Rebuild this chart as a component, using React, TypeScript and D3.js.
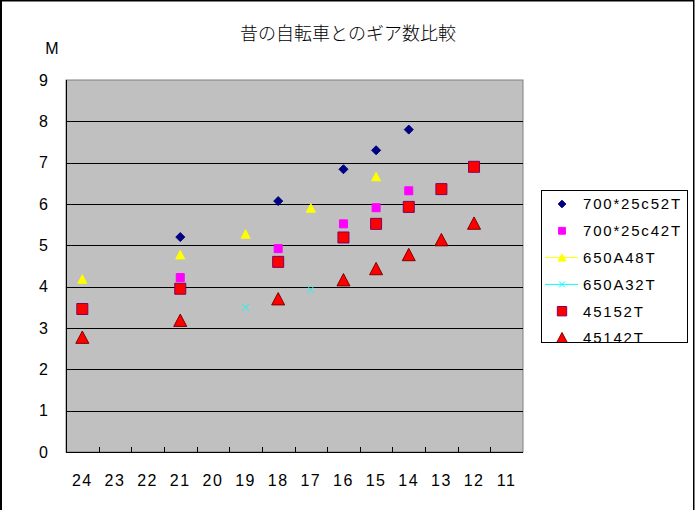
import React from "react";
import * as d3 from "d3";

const categories = ["24","23","22","21","20","19","18","17","16","15","14","13","12","11"];
const yTicks = [0,1,2,3,4,5,6,7,8,9];
const title = "昔の自転車とのギア数比較";
const yUnit = "M";

const s700_52 = [null,null,null,5.2,null,null,6.07,null,6.84,7.3,7.8,null,null,null];
const s700_42 = [null,null,null,4.22,null,null,4.92,null,5.52,5.91,6.32,null,null,null];
const s650_48 = [4.18,null,null,4.77,null,5.27,null,5.9,null,6.66,null,null,null,null];
const s650_32 = [null,null,null,null,null,3.5,null,3.93,null,null,null,null,null,null];
const s451_52 = [3.46,null,null,3.95,null,null,4.6,null,5.19,5.52,5.93,6.36,6.9,null];
const s451_42 = [2.77,null,null,3.18,null,null,3.7,null,4.16,4.43,4.77,5.13,5.53,null];

type Series = { name: string; values: (number | null)[]; marker: string; fill: string; stroke: string; line?: string; r: number };

const series: Series[] = [
  { name: "700*25c52T", values: s700_52, marker: "diamond", fill: "#000080", stroke: "#000080", r: 4.5 },
  { name: "700*25c42T", values: s700_42, marker: "square", fill: "#FF00FF", stroke: "#FF00FF", r: 4 },
  { name: "650A48T", values: s650_48, marker: "triangle", fill: "#FFFF00", stroke: "#FFFF00", line: "#FFFF00", r: 4.5 },
  { name: "650A32T", values: s650_32, marker: "x", fill: "none", stroke: "#00FFFF", line: "#00FFFF", r: 3.5 },
  { name: "45152T", values: s451_52, marker: "square", fill: "#FF0000", stroke: "#800060", r: 5.5 },
  { name: "45142T", values: s451_42, marker: "triangle", fill: "#FF0000", stroke: "#800000", r: 6.5 },
];

function markerPath(type: string, x: number, y: number, r: number): string {
  const p = d3.path();
  if (type === "diamond") {
    p.moveTo(x, y - r); p.lineTo(x + r, y); p.lineTo(x, y + r); p.lineTo(x - r, y); p.closePath();
  } else if (type === "square") {
    p.rect(x - r, y - r, 2 * r, 2 * r);
  } else if (type === "triangle") {
    p.moveTo(x, y - r); p.lineTo(x + r, y + r * 0.9); p.lineTo(x - r, y + r * 0.9); p.closePath();
  } else if (type === "x") {
    p.moveTo(x - r, y - r); p.lineTo(x + r, y + r); p.moveTo(x + r, y - r); p.lineTo(x - r, y + r);
  }
  return p.toString();
}

const W = 696, H = 510;
const plot = { left: 66, right: 523, top: 80, bottom: 452 };

export default function App() {
  const x = d3.scaleBand<string>().domain(categories).range([plot.left, plot.right]).padding(0);
  const y = d3.scaleLinear().domain([0, 9]).range([plot.bottom, plot.top]);
  const numFont = "'Liberation Sans', Arial, sans-serif";
  const legend = { x: 541, y: 190, w: 146, h: 152, rowH: 26.8, first: 204 };

  return (
    <svg width={W} height={H} style={{ position: "absolute", left: 0, top: 0, background: "#fff" }}>
      <rect x={0} y={0} width={W} height={H} fill="#fff" />
      <line x1={1} y1={0} x2={1} y2={H} stroke="#000" strokeWidth={2} />
      <line x1={0} y1={0.75} x2={694} y2={0.75} stroke="#000" strokeWidth={1.5} />
      <line x1={693.75} y1={0} x2={693.75} y2={H} stroke="#000" strokeWidth={1.5} />

      <text x={348} y={40} textAnchor="middle" fontFamily="'Noto Sans CJK JP', sans-serif" fontWeight={300} fontSize={18} fill="#000">{title}</text>
      <text x={52} y={54} textAnchor="middle" fontFamily={numFont} fontSize={16} fill="#000">{yUnit}</text>

      <rect x={plot.left} y={plot.top} width={plot.right - plot.left} height={plot.bottom - plot.top} fill="#C0C0C0" stroke="#808080" strokeWidth={1} />
      {yTicks.filter(t => t > 0 && t < 9).map(t => (
        <line key={t} x1={plot.left} x2={plot.right} y1={Math.round(y(t)) + 0.5} y2={Math.round(y(t)) + 0.5} stroke="#000" strokeWidth={1} />
      ))}
      <line x1={plot.left + 0.5} x2={plot.left + 0.5} y1={plot.top} y2={plot.bottom} stroke="#000" />
      <line x1={plot.left} x2={plot.right} y1={plot.bottom + 0.5} y2={plot.bottom + 0.5} stroke="#000" />
      {categories.slice(1).map(c => {
        const tx = Math.round(x(c) as number) + 0.5;
        return <line key={c} x1={tx} x2={tx} y1={plot.bottom} y2={plot.bottom - 5} stroke="#000" />;
      })}
      {yTicks.map(t => (
        <text key={t} x={48} y={y(t)} dy="0.36em" textAnchor="end" fontFamily={numFont} fontSize={16} fill="#000">{t}</text>
      ))}
      {categories.map(c => (
        <text key={c} x={(x(c) as number) + x.bandwidth() / 2} y={480} dy="0.36em" textAnchor="middle" fontFamily={numFont} fontSize={16} letterSpacing={1.5} fill="#000">{c}</text>
      ))}

      {series.map(s => (
        <g key={s.name}>
          {s.values.map((v, i) => v == null ? null : (
            <path key={i} d={markerPath(s.marker, (x(categories[i]) as number) + x.bandwidth() / 2, y(v), s.r)}
              fill={s.fill} stroke={s.stroke} strokeWidth={1} />
          ))}
        </g>
      ))}

      <defs>
        <clipPath id="legclip">
          <rect x={legend.x} y={legend.y} width={legend.w} height={legend.h} />
        </clipPath>
      </defs>
      <rect x={legend.x + 0.5} y={legend.y + 0.5} width={legend.w} height={legend.h} fill="#fff" stroke="#000" />
      <g clipPath="url(#legclip)">
        {series.map((s, i) => {
          const cy = legend.first + i * legend.rowH;
          return (
            <g key={s.name}>
              {s.line && <line x1={545} x2={578} y1={cy} y2={cy} stroke={s.line} strokeWidth={1} />}
              <path d={markerPath(s.marker, 562, cy, s.r * 0.85)} fill={s.fill} stroke={s.stroke} strokeWidth={1} />
              <text x={583} y={cy} dy="0.36em" fontFamily={numFont} fontSize={15} letterSpacing={1.8} fill="#000">{s.name}</text>
            </g>
          );
        })}
      </g>
    </svg>
  );
}
